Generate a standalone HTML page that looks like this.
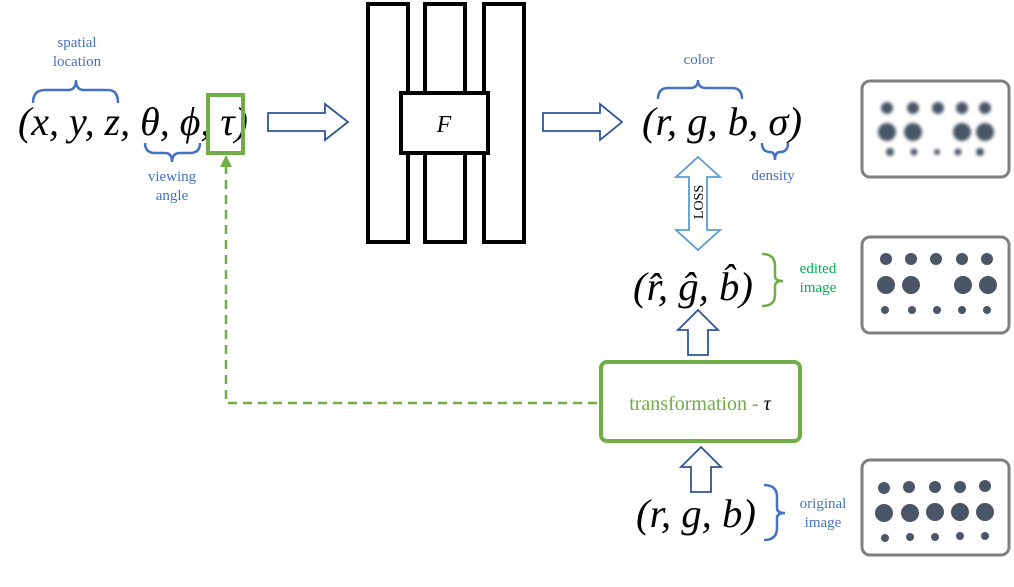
<!DOCTYPE html>
<html><head><meta charset="utf-8"><style>
html,body{margin:0;padding:0;background:#fff;}
svg{display:block;}
.m{font-family:"Liberation Serif","DejaVu Serif",serif;font-style:italic;font-size:40px;fill:#000;}
.lb{font-family:"Liberation Serif",serif;font-size:15px;fill:#4472c4;text-anchor:middle;}
.lg{font-family:"Liberation Serif",serif;font-size:15px;fill:#00b050;text-anchor:middle;}
</style></head><body>
<svg width="1014" height="587" viewBox="0 0 1014 587" xmlns="http://www.w3.org/2000/svg">
<defs>
<filter id="bl"><feGaussianBlur stdDeviation="1.6"/></filter>
</defs>
<!-- left tuple -->
<text class="m" x="18" y="135" textLength="230" lengthAdjust="spacingAndGlyphs">(x, y, z, θ, ϕ, τ)</text>
<rect x="208" y="95" width="35" height="58" fill="none" stroke="#70ad47" stroke-width="4"/>
<text class="lb" x="77" y="47">spatial</text>
<text class="lb" x="77" y="66">location</text>
<path d="M33,103 Q33,90 45,90 L68,90 Q76,90 76,80 Q76,90 84,90 L108,90 Q118,90 118,103" fill="none" stroke="#4472c4" stroke-width="2.5"/>
<path d="M145,143 Q145,153 155,153 L165,153 Q172,153 172,162 Q172,153 180,153 L190,153 Q200,153 200,143" fill="none" stroke="#4472c4" stroke-width="2.5"/>
<text class="lb" x="172" y="181">viewing</text>
<text class="lb" x="172" y="200">angle</text>
<!-- dashed feedback -->
<path d="M226,165 L226,403 L600,403" fill="none" stroke="#70ad47" stroke-width="2.5" stroke-dasharray="9,6"/>
<polygon points="226,155 220,167 232,167" fill="#70ad47"/>
<!-- arrow 1 -->
<polygon points="268,113 325,113 325,104 348,122 325,140 325,131 268,131" fill="#fff" stroke="#2f5597" stroke-width="1.8"/>
<!-- network -->
<g fill="#fff" stroke="#000" stroke-width="4">
<rect x="368" y="4" width="40" height="238"/>
<rect x="425" y="4" width="40" height="238"/>
<rect x="484" y="4" width="40" height="238"/>
<rect x="401" y="93" width="87" height="60"/>
</g>
<text x="444" y="132" style="font-family:'Liberation Serif',serif;font-style:italic;font-size:24px" text-anchor="middle">F</text>
<!-- arrow 2 -->
<polygon points="543,113 600,113 600,104 622,122 600,140 600,131 543,131" fill="#fff" stroke="#2f5597" stroke-width="1.8"/>
<!-- rgb sigma -->
<text class="m" x="642" y="135" textLength="160" lengthAdjust="spacingAndGlyphs">(r, g, b, σ)</text>
<path d="M658,99 Q658,88 668,88 L690,88 Q698,88 698,80 Q698,88 706,88 L732,88 Q742,88 742,99" fill="none" stroke="#4472c4" stroke-width="2.5"/>
<text class="lb" x="699" y="64">color</text>
<path d="M762,143 Q762,152 770,152 Q775,152 775,160 Q775,152 780,152 Q788,152 788,143" fill="none" stroke="#4472c4" stroke-width="2.5"/>
<text class="lb" x="773" y="180">density</text>
<!-- LOSS arrow -->
<polygon points="698,157 720,177 707,177 707,230 720,230 698,250 676,230 689,230 689,177 676,177" fill="#fff" stroke="#5b9bd5" stroke-width="1.8"/>
<text transform="translate(703,202) rotate(-90)" text-anchor="middle" style="font-family:'Liberation Serif',serif;font-size:14px">LOSS</text>
<!-- rhat -->
<text class="m" x="633" y="300" textLength="120" lengthAdjust="spacingAndGlyphs">(r̂, ĝ, b̂)</text>
<path d="M762,254 Q775,254 775,266 L775,276 Q775,281 783,281 Q775,281 775,286 L775,295 Q775,306 762,306" fill="none" stroke="#70ad47" stroke-width="2.5"/>
<text class="lg" x="818" y="273">edited</text>
<text class="lg" x="818" y="292">image</text>
<!-- up arrow 1 -->
<polygon points="698,310 718,330 708,330 708,355 688,355 688,330 678,330" fill="#fff" stroke="#2f5597" stroke-width="1.8"/>
<!-- transformation box -->
<rect x="601" y="362" width="199" height="79" rx="6" fill="#fff" stroke="#70ad47" stroke-width="4"/>
<text x="700" y="410" text-anchor="middle" style="font-family:'Liberation Serif',serif;font-size:20px;fill:#70ad47">transformation - <tspan style="fill:#000;font-style:italic">τ</tspan></text>
<!-- up arrow 2 -->
<polygon points="701,447 721,467 711,467 711,492 691,492 691,467 681,467" fill="#fff" stroke="#2f5597" stroke-width="1.8"/>
<!-- rgb -->
<text class="m" x="636" y="527" textLength="120" lengthAdjust="spacingAndGlyphs">(r, g, b)</text>
<path d="M764,485 Q777,485 777,497 L777,508 Q777,513 785,513 Q777,513 777,518 L777,528 Q777,540 764,540" fill="none" stroke="#4472c4" stroke-width="2.5"/>
<text class="lb" x="823" y="508">original</text>
<text class="lb" x="823" y="527">image</text>
<!-- image boxes -->
<g fill="#fff" stroke="#7f7f7f" stroke-width="3">
<rect x="862" y="81" width="147" height="96" rx="8"/>
<rect x="862" y="237" width="147" height="96" rx="8"/>
<rect x="862" y="460" width="147" height="95" rx="8"/>
</g>
<g fill="#4a5668" filter="url(#bl)">
<circle cx="887" cy="108" r="6"/><circle cx="913" cy="108" r="6"/><circle cx="938" cy="108" r="6"/><circle cx="962" cy="108" r="6"/><circle cx="985" cy="108" r="6"/>
<circle cx="887" cy="132" r="9"/><circle cx="913" cy="132" r="9"/><circle cx="962" cy="132" r="9"/><circle cx="985" cy="132" r="9"/>
<circle cx="890" cy="152" r="4"/><circle cx="914" cy="152" r="3.5"/><circle cx="937" cy="152" r="3"/><circle cx="958" cy="152" r="3.5"/><circle cx="980" cy="152" r="4"/>
</g>
<g fill="#4a5668">
<circle cx="886" cy="259" r="6"/><circle cx="911" cy="259" r="6"/><circle cx="936" cy="259" r="6"/><circle cx="962" cy="259" r="6"/><circle cx="987" cy="259" r="6"/>
<circle cx="886" cy="285" r="9"/><circle cx="911" cy="285" r="9"/><circle cx="963" cy="285" r="9"/><circle cx="988" cy="285" r="9"/>
<circle cx="885" cy="310" r="4"/><circle cx="912" cy="310" r="4"/><circle cx="937" cy="310" r="4"/><circle cx="962" cy="310" r="4"/><circle cx="987" cy="310" r="4"/>
<circle cx="884" cy="488" r="6"/><circle cx="909" cy="487" r="6"/><circle cx="935" cy="487" r="6"/><circle cx="960" cy="487" r="6"/><circle cx="985" cy="486" r="6"/>
<circle cx="884" cy="513" r="9"/><circle cx="910" cy="513" r="9"/><circle cx="935" cy="512" r="9"/><circle cx="960" cy="512" r="9"/><circle cx="985" cy="512" r="9"/>
<circle cx="885" cy="538" r="4"/><circle cx="910" cy="537" r="4"/><circle cx="935" cy="537" r="4"/><circle cx="960" cy="536" r="4"/><circle cx="985" cy="536" r="4"/>
</g>
</svg>
</body></html>
